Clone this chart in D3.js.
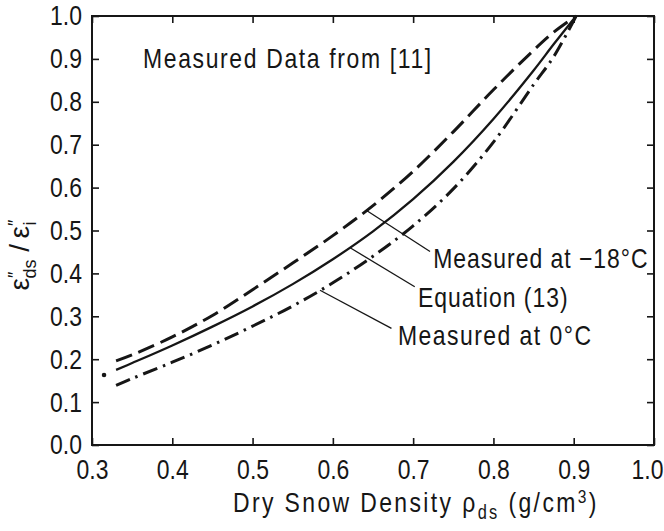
<!DOCTYPE html>
<html><head><meta charset="utf-8">
<script src="https://cdn.jsdelivr.net/npm/d3@7"></script>
<style>body{margin:0;background:#fff}svg{display:block}</style>
</head><body><svg id="c" width="664" height="531"></svg>
<script>
// ---- data ----
const density = [0.33, 0.35, 0.40, 0.45, 0.50, 0.55, 0.60, 0.65, 0.70, 0.75, 0.80, 0.85, 0.875, 0.903];
const measuredMinus18 = [0.196, 0.210, 0.252, 0.302, 0.362, 0.424, 0.488, 0.558, 0.638, 0.730, 0.828, 0.920, 0.962, 1.0];
const equation13 = [0.175, 0.191, 0.232, 0.276, 0.323, 0.375, 0.433, 0.498, 0.573, 0.660, 0.760, 0.873, 0.934, 1.0];
const measured0 = [0.139, 0.155, 0.193, 0.233, 0.277, 0.324, 0.378, 0.440, 0.511, 0.597, 0.706, 0.840, 0.905, 1.0];
const strayPoint = [[0.315, 0.163]];
const xTicks = [0.3, 0.4, 0.5, 0.6, 0.7, 0.8, 0.9, 1.0];
const yTicks = [0.0, 0.1, 0.2, 0.3, 0.4, 0.5, 0.6, 0.7, 0.8, 0.9, 1.0];
const seriesNames = ["Measured at \u221218\u00B0C", "Equation (13)", "Measured at 0\u00B0C"];
const anchorX = [0.642, 0.621, 0.584];
const pointerEnd = [[0.721, 0.451], [0.702, 0.369], [0.673, 0.272]];
const labelPos = [[0.725, 0.413], [0.706, 0.321], [0.681, 0.233]];
const noteText = "Measured Data from [11]";
const notePos = [0.3635, 0.879];

// ---- layout ----
const svg = d3.select("#c");
const FONT = "'Liberation Sans', Arial, sans-serif";
const SQ = 0.82; // horizontal condensing of the lettering
const ink = "#161616";
const x = d3.scaleLinear().domain([0.3, 1.0]).range([92, 654]);
const y = d3.scaleLinear().domain([0, 1.0]).range([445, 16]);

function addText(px, py, size, spacing) {
  return svg.append("g").attr("transform", `translate(${px},${py}) scale(${SQ},1)`)
    .append("text").attr("fill", ink)
    .style("font-family", FONT).style("font-size", size + "px")
    .style("letter-spacing", (spacing || 0) + "px");
}

// frame
svg.append("rect").attr("x", x(0.3)).attr("y", y(1)).attr("width", x(1) - x(0.3)).attr("height", y(0) - y(1))
  .attr("fill", "none").attr("stroke", ink).attr("stroke-width", 2);

function styleAxis(g, showLabels) {
  g.select(".domain").remove();
  g.selectAll(".tick line").attr("stroke", ink).attr("stroke-width", 1.6);
  g.selectAll(".tick text").attr("fill", ink).style("font-family", FONT).style("font-size", "28px");
  if (!showLabels) g.selectAll(".tick text").remove();
}
const fmt = d3.format(".1f");
svg.append("g").attr("transform", `translate(0,${y(0)})`)
  .call(d3.axisBottom(x).tickValues(xTicks).tickFormat(fmt).tickSizeInner(-7).tickSizeOuter(0).tickPadding(14))
  .call(g => styleAxis(g, true))
  .call(g => g.selectAll(".tick text").attr("transform", `scale(${SQ},1)`)
    .attr("x", d => d === 1.0 ? -7 / SQ : 0));
svg.append("g").attr("transform", `translate(${x(0.3)},0)`)
  .call(d3.axisLeft(y).tickValues(yTicks).tickFormat(fmt).tickSizeInner(-7).tickSizeOuter(0).tickPadding(10))
  .call(g => styleAxis(g, true))
  .call(g => g.selectAll(".tick text").attr("x", -10 / SQ).attr("transform", `scale(${SQ},1)`));
svg.append("g").attr("transform", `translate(0,${y(1)})`)
  .call(d3.axisTop(x).tickValues(xTicks).tickSizeInner(-7).tickSizeOuter(0))
  .call(g => styleAxis(g, false));
svg.append("g").attr("transform", `translate(${x(1)},0)`)
  .call(d3.axisRight(y).tickValues(yTicks).tickSizeInner(-7).tickSizeOuter(0))
  .call(g => styleAxis(g, false));

// curves
const line = d3.line().x(d => x(d[0])).y(d => y(d[1])).curve(d3.curveCatmullRom.alpha(0.5));
const series = [
  {vals: measuredMinus18, dash: "17,7", w: 3},
  {vals: equation13, dash: null, w: 2.3},
  {vals: measured0, dash: "15,6,2.5,6", w: 3}
];
series.forEach(s => {
  svg.append("path").datum(density.map((d, i) => [d, s.vals[i]]))
    .attr("d", line).attr("fill", "none").attr("stroke", ink)
    .attr("stroke-width", s.w).attr("stroke-dasharray", s.dash);
});
svg.selectAll("circle.stray").data(strayPoint).join("circle")
  .attr("cx", d => x(d[0])).attr("cy", d => y(d[1])).attr("r", 2.3).attr("fill", ink);

// annotation pointers + labels
function interp(xs, ys, v) {
  const i = d3.bisectRight(xs, v) - 1;
  const t = (v - xs[i]) / (xs[i + 1] - xs[i]);
  return ys[i] + t * (ys[i + 1] - ys[i]);
}
series.forEach((s, k) => {
  const ax = anchorX[k], ay = interp(density, s.vals, ax);
  svg.append("line").attr("x1", x(ax)).attr("y1", y(ay))
    .attr("x2", x(pointerEnd[k][0])).attr("y2", y(pointerEnd[k][1]))
    .attr("stroke", ink).attr("stroke-width", 1.3);
  addText(x(labelPos[k][0]), y(labelPos[k][1]), 28, k === 2 ? 1.8 : 1.2).text(seriesNames[k]);
});

addText(x(notePos[0]), y(notePos[1]), 28, 2).text(noteText);

// x axis title
const xt = addText(233, 512, 28, 2.9);
xt.append("tspan").text("Dry Snow Density ");
xt.append("tspan").text("\u03C1");
xt.append("tspan").attr("dy", 7).style("font-size", "20px").text("ds");
xt.append("tspan").attr("dy", -7).text(" (g/cm");
xt.append("tspan").attr("dy", -9).style("font-size", "19px").text("3");
xt.append("tspan").attr("dy", 9).text(")");

// y axis title
const yt = svg.append("text").attr("transform", "translate(29,255) rotate(-90)")
  .attr("text-anchor", "middle").attr("fill", ink)
  .style("font-family", FONT).style("font-size", "28px");
yt.append("tspan").text("\u03B5");
yt.append("tspan").attr("dy", -8).style("font-size", "18px").text("\u2033");
yt.append("tspan").attr("dx", -7).attr("dy", 15).style("font-size", "18px").text("ds");
yt.append("tspan").attr("dy", -7).text(" /\u2009\u03B5");
yt.append("tspan").attr("dy", -8).style("font-size", "18px").text("\u2033");
yt.append("tspan").attr("dx", -6).attr("dy", 15).style("font-size", "18px").text("i");
</script></body></html>
